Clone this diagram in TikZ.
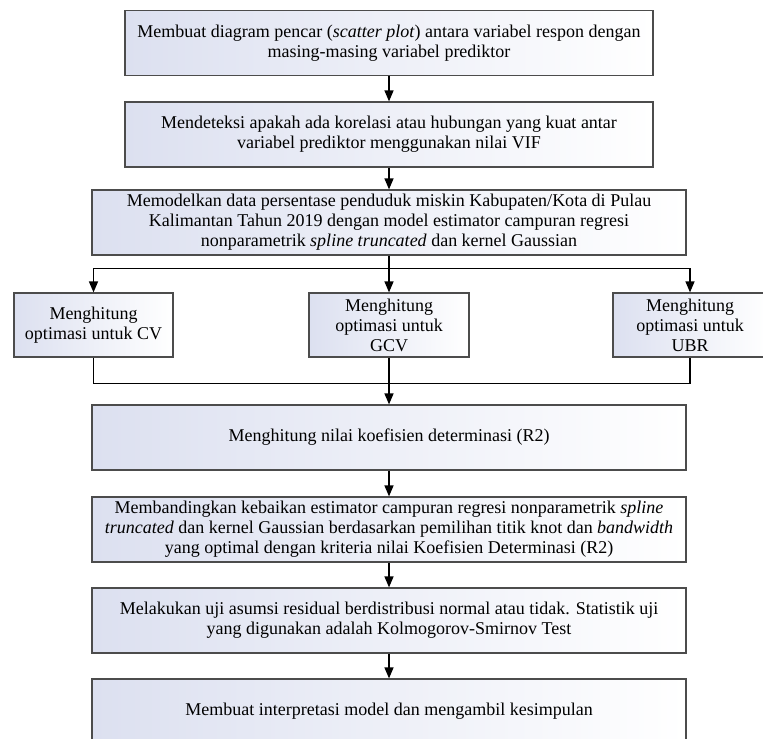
\documentclass[tikz,border=0pt]{standalone}
\usepackage{fontspec}
\setmainfont{Liberation Serif}
\usetikzlibrary{arrows.meta,positioning}
\definecolor{boxfill}{RGB}{220,224,240}

\begin{document}
\begin{tikzpicture}[>={Triangle[width=4.5pt,length=5.5pt]},node distance=45.5pt,on grid,
  mybox/.style={draw=black!70,line width=0.6pt,left color=boxfill,middle color=boxfill!30,right color=white,
    minimum width=297pt,minimum height=32.5pt,align=center,inner sep=2pt,
    font=\fontsize{9}{10}\selectfont},
  mysmall/.style={mybox,minimum height=32pt},
  myline/.style={->,line width=0.7pt}]
  \useasboundingbox (0,0) rectangle (381.5pt,-369pt);

  \node[mybox,minimum width=264pt] (box1) at (194.5pt,-21.5pt)
    {Membuat diagram pencar (\textit{scatter plot}) antara variabel respon dengan\\ masing-masing variabel prediktor};
  \node[mybox,minimum width=264pt] (box2) [below =45.75pt of box1]
    {Mendeteksi apakah ada korelasi atau hubungan yang kuat antar\\ variabel prediktor menggunakan nilai VIF};
  \node[mybox] (box3) [below =44pt of box2]
    {Memodelkan data persentase penduduk miskin Kabupaten/Kota di Pulau\\ Kalimantan Tahun 2019 dengan model estimator campuran regresi\\ nonparametrik \textit{spline truncated} dan kernel Gaussian};

  \node[mysmall,minimum width=80pt] (gcv) [below =51.25pt of box3] {Menghitung\\ optimasi untuk\\ GCV};
  \node[mysmall,minimum width=79.5pt] (cv) [left =147.75pt of gcv] {Menghitung\\ optimasi untuk CV};
  \node[mysmall,minimum width=77pt] (ubr) [right =150.5pt of gcv] {Menghitung\\ optimasi untuk\\ UBR};

  \node[mybox] (r2) [below =56.25pt of gcv] {Menghitung nilai koefisien determinasi (R2)};
  \node[mybox] (cmp) [below =46pt of r2]
    {Membandingkan kebaikan estimator campuran regresi nonparametrik \textit{spline}\\ \textit{truncated} dan kernel Gaussian berdasarkan pemilihan titik knot dan \textit{bandwidth}\\ yang optimal dengan kriteria nilai Koefisien Determinasi (R2)};
  \node[mybox] (uji) [below =of cmp]
    {Melakukan uji asumsi residual berdistribusi normal atau tidak. Statistik uji\\ yang digunakan adalah Kolmogorov-Smirnov Test};
  \node[mybox] (final) [below =of uji] {Membuat interpretasi model dan mengambil kesimpulan};

  \coordinate (split) at ([yshift=-6.5pt]box3.south);
  \coordinate (merge) at ([yshift=-13pt]gcv.south);

  \draw[myline] (box1) -- (box2);
  \draw[myline] (box2) -- (box3);
  \draw[myline] (box3) -- (gcv);
  \draw[myline] (split) -| (cv);
  \draw[myline] (split) -| (ubr);
  \draw[line width=0.7pt] (cv) |- (merge) -| (ubr);
  \draw[myline] (gcv) -- (r2);
  \draw[myline] (r2) -- (cmp);
  \draw[myline] (cmp) -- (uji);
  \draw[myline] (uji) -- (final);
\end{tikzpicture}
\end{document}
